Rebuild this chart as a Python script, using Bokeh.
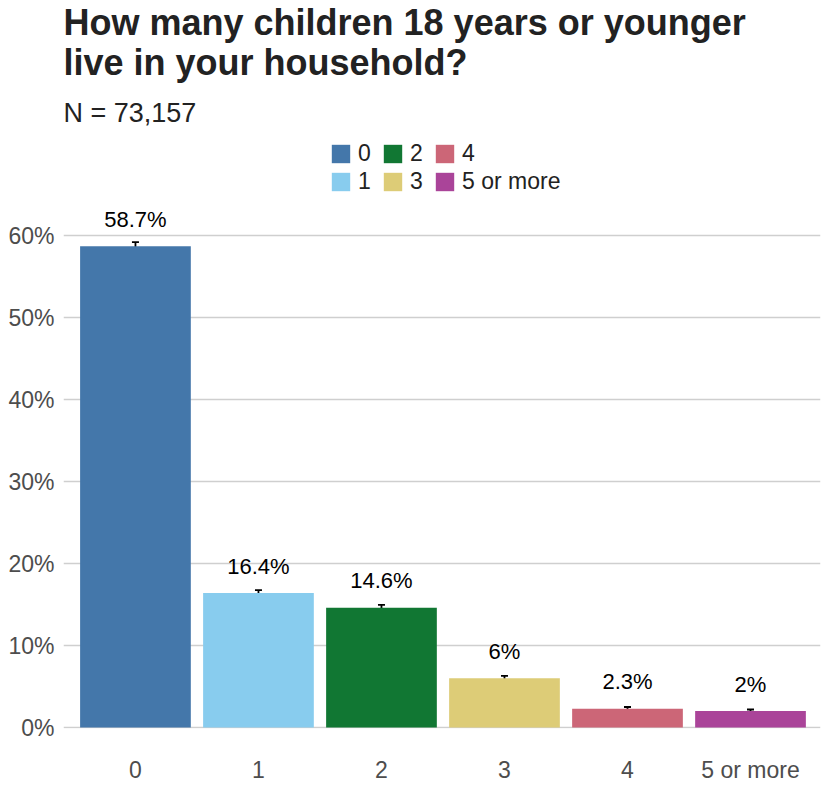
from bokeh.plotting import figure
from bokeh.models import (ColumnDataSource, Range1d, FixedTicker, Label, Legend,
                          LegendItem, Whisker, TeeHead, CustomJSTickFormatter)
from bokeh.core.properties import value
from bokeh.embed import file_html
from bokeh.resources import INLINE

# ---- data ----
categories = ["0", "1", "2", "3", "4", "5 or more"]
percents = [58.7, 16.4, 14.6, 6.0, 2.3, 2.0]
ci_low = [58.2, 16.05, 14.25, 5.7, 2.1, 1.8]
ci_high = [59.2, 16.75, 14.95, 6.3, 2.5, 2.2]
bar_labels = ["58.7%", "16.4%", "14.6%", "6%", "2.3%", "2%"]
colors = ["#4477AA", "#88CCEE", "#117733", "#DDCC77", "#CC6677", "#AA4499"]
y_ticks = [0, 10, 20, 30, 40, 50, 60]
title_lines = ["How many children 18 years or younger", "live in your household?"]
subtitle = "N = 73,157"

FONT = "Liberation Sans"
xs = list(range(len(categories)))

src = ColumnDataSource(dict(x=xs, top=percents, lo=ci_low, hi=ci_high,
                            lab=bar_labels, color=colors, cat=categories))

p = figure(width=822, height=797, output_backend="svg", toolbar_location=None,
           x_range=Range1d(-0.585, 5.569), y_range=Range1d(-0.12, 88.66),
           min_border_left=63, min_border_right=2, min_border_top=0,
           min_border_bottom=69)
p.outline_line_color = None
p.background_fill_color = "white"

# bars (one renderer per category for legend)
renderers = []
for i, c in enumerate(categories):
    view_src = ColumnDataSource(dict(x=[xs[i]], top=[percents[i]]))
    r = p.vbar(x="x", top="top", bottom=0, width=0.9, source=view_src,
               fill_color=colors[i], line_color=None)
    renderers.append(r)

# error bars
wh = Whisker(base="x", lower="lo", upper="hi", source=src, line_color="black",
             line_width=1.8,
             upper_head=TeeHead(size=7, line_color="black", line_width=1.8),
             lower_head=TeeHead(size=7, line_color="black", line_width=1.8))
p.add_layout(wh)

# bar labels
p.text(x="x", y="top", text="lab", source=src, text_align="center",
       text_baseline="middle", y_offset=-27, text_font=value(FONT),
       text_font_size="22px", text_color="black")

# axes
p.xaxis.ticker = FixedTicker(ticks=xs)
p.xaxis.major_label_overrides = {i: c for i, c in enumerate(categories)}
p.yaxis.ticker = FixedTicker(ticks=y_ticks)
p.yaxis.formatter = CustomJSTickFormatter(code="return tick + '%';")
for ax in (p.xaxis[0], p.yaxis[0]):
    ax.axis_line_color = None
    ax.major_tick_line_color = None
    ax.minor_tick_line_color = None
    ax.major_label_text_font = FONT
    ax.major_label_text_font_size = "23px"
    ax.major_label_text_color = "#4d4d4d"
p.yaxis.major_label_standoff = 3
p.xaxis.major_label_standoff = 22

p.xgrid.grid_line_color = None
p.ygrid.ticker = FixedTicker(ticks=y_ticks)
p.ygrid.grid_line_color = "#cfcfcf"
p.ygrid.grid_line_width = 1.3

# legend
items = [LegendItem(label=c, renderers=[renderers[i]]) for i, c in enumerate(categories)]
legend = Legend(items=items, location=(266, 533), orientation="vertical", ncols=3,
                glyph_width=23, glyph_height=23, label_height=23, label_width=22,
                label_standoff=6, spacing=1, padding=0, margin=0,
                label_text_font=FONT, label_text_font_size="23px",
                label_text_color="#222222", label_text_baseline="middle",
                border_line_color=None, background_fill_alpha=0)
p.add_layout(legend, "center")

# title and subtitle
p.add_layout(Label(x=-0.585, y=85.97, text=title_lines[0], text_font=FONT,
                   text_font_size="36px", text_font_style="bold",
                   text_color="#222222", text_baseline="alphabetic"))
p.add_layout(Label(x=-0.585, y=81.09, text=title_lines[1], text_font=FONT,
                   text_font_size="36px", text_font_style="bold",
                   text_color="#222222", text_baseline="alphabetic"))
p.add_layout(Label(x=-0.585, y=75.0, text=subtitle, text_font=FONT,
                   text_font_size="27px", text_color="#222222",
                   text_baseline="alphabetic"))

open("out.html", "w").write(file_html(p, INLINE))
